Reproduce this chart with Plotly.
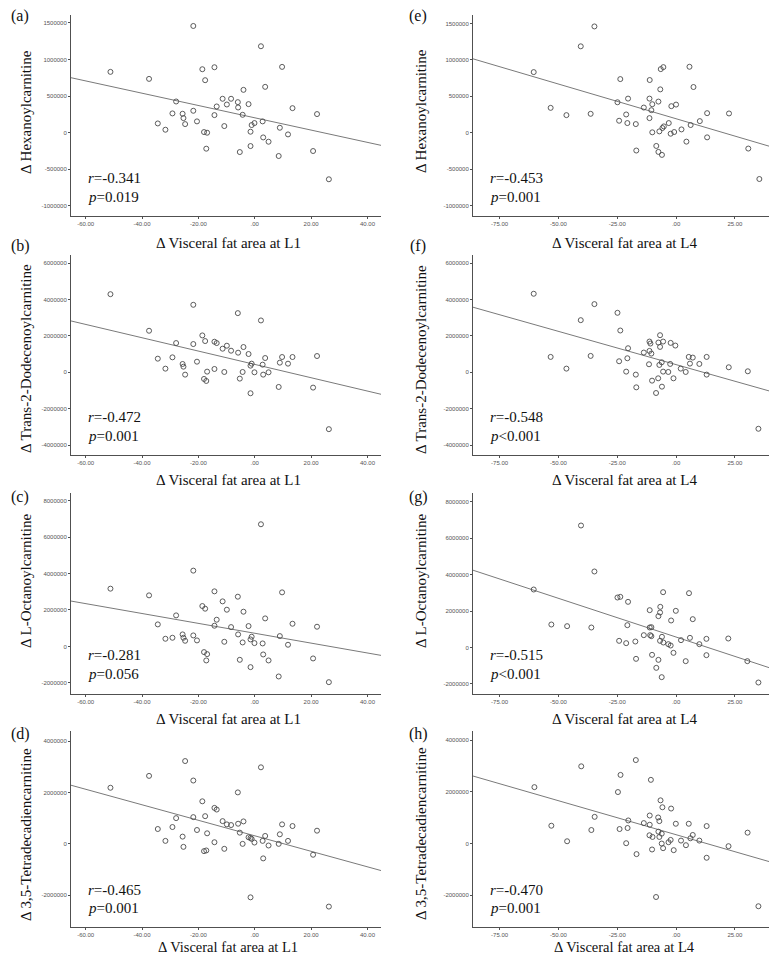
import numpy as np
import plotly.graph_objects as go

# ---------------- data ----------------
vfa_L1 = [-51.2, -37.5, -34.4, -31.7, -29.2, -27.9, -25.6, -25.3, -24.7, -21.8, -21.8, -20.5, -18.6, -17.6,
          -18.0, -16.9, -17.2, -14.3, -14.3, -13.5, -11.4, -10.8, -9.9, -8.4, -6.0, -5.9, -5.3, -4.0, -4.3,
          -2.2, -1.5, -1.5, -1.1, -0.1, 2.2, 2.8, 3.0, 3.7, 4.9, 8.5, 8.9, 9.7, 11.8, 13.4, 20.7, 22.1, 26.3]

hexanoyl_L1 = [831800, 736000, 127000, 41000, 264000, 427000, 259000, 200000, 118000, 1459000, 300000, 155000,
               868000, 718000, 9000, 0, -218000, 895000, 241000, 359000, 464000, 91000, 386000, 464000, 418000,
               345000, -264000, 586000, 245000, 391000, 14000, -182000, 105000, 132000, 1182000, 155000, -64000,
               627000, -123000, -318000, 68000, 900000, -23000, 336000, -250000, 255000, -636000]

dodecenoyl_L1 = [4292000, 2283000, 749000, 201000, 822000, 1607000, 457000, 310000, -128000, 3708000, 1552000,
                 584000, 2027000, 1717000, -365000, 37000, -475000, 1680000, 183000, 1607000, 1297000, 18000,
                 1461000, 1187000, 3251000, 1078000, -347000, 1388000, 18000, 1005000, 365000, -1151000, 475000,
                 0, 2849000, 420000, -128000, 785000, 0, -804000, 530000, 840000, 475000, 840000, -840000,
                 895000, -3123000]

octanoyl_L1 = [3169000, 2802000, 1209000, 421000, 476000, 1703000, 659000, 476000, 311000, 4158000, 604000,
               330000, 2216000, 2070000, -311000, -421000, -769000, 3022000, 1136000, 1465000, 2473000, 256000,
               2015000, 1062000, 2729000, 659000, -733000, 1905000, 220000, 1117000, 385000, -1136000, 531000,
               183000, 6703000, 165000, -440000, 1538000, -769000, -1648000, 568000, 2967000, 92000, 1245000,
               -659000, 1081000, -1960000]

tetradeca_L1 = [2187000, 2650000, 579000, 116000, 656000, 1003000, 283000, -116000, 3228000, 2469000, 1042000,
                540000, 1659000, 1080000, -283000, 412000, -257000, 1402000, 64000, 1338000, 887000, -193000,
                759000, 733000, 2006000, 785000, 437000, 875000, 0, 257000, 232000, -2084000, 193000, 51000,
                2984000, 116000, -566000, 309000, -64000, 0, 373000, 759000, 116000, 695000, -424000, 514000,
                -2444000]

vfa_L4_e = [-60.5, -53.3, -46.6, -40.5, -36.3, -34.7, -24.9, -23.7, -24.2, -21.2, -20.7, -20.4, -17.1, -16.9,
            -13.7, -11.3, -11.2, -11.3, -10.5, -10.1, -10.1, -8.4, -7.5, -7.5, -7.1, -6.7, -6.5, -6.0, -5.8,
            -5.4, -5.2, -3.1, -2.3, -2.0, -0.8, 0.0, 2.3, 4.4, 5.7, 6.2, 7.4, 10.1, 13.2, 13.2, 22.5, 30.7, 35.4]
hexanoyl_L4 = [832000, 341000, 241000, 1186000, 259000, 1459000, 418000, 736000, 164000, 250000, 132000, 468000,
               118000, -245000, 345000, 468000, 723000, 200000, 309000, 391000, 5000, -182000, 427000, -264000,
               18000, 595000, 873000, -305000, 64000, 900000, 86000, 132000, -14000, 364000, 9000, 386000, 45000,
               -123000, 905000, 105000, 627000, 159000, 268000, -64000, 264000, -218000, -636000]

vfa_L4_f = [-60.5, -53.3, -46.6, -40.5, -36.3, -34.7, -24.9, -23.7, -24.2, -20.4, -20.7, -21.2, -17.1, -16.9,
            -13.7, -11.3, -10.9, -11.3, -10.5, -11.5, -10.2, -7.6, -8.5, -6.8, -7.5, -6.8, -7.1, -6.1, -5.5,
            -6.0, -5.5, -3.3, -2.3, -2.5, -1.1, -0.3, 2.0, 4.1, 5.4, 5.9, 7.1, 9.9, 13.0, 13.0, 22.4, 30.5, 35.0]
dodecenoyl_L4 = [4312000, 844000, 202000, 2862000, 899000, 3743000, 3266000, 2294000, 606000, 1321000, 771000,
                 37000, -128000, -826000, 1083000, 1688000, 1578000, 1174000, 1028000, 440000, -459000, -330000,
                 -1138000, 2037000, 1633000, 1394000, 404000, 550000, 1688000, -789000, 37000, 18000, 1615000,
                 459000, -330000, 1468000, 202000, 18000, 844000, 477000, 807000, 459000, 844000, -128000,
                 275000, 55000, -3101000]

vfa_L4_g = [-60.5, -53.0, -46.3, -40.4, -36.0, -34.7, -24.9, -23.7, -24.2, -20.4, -20.7, -21.2, -17.3, -17.0,
            -13.7, -11.2, -11.2, -10.5, -11.0, -10.5, -10.2, -7.5, -8.4, -6.7, -6.8, -7.5, -6.8, -6.0, -5.5,
            -6.1, -5.4, -3.3, -2.1, -2.3, -1.1, -0.1, 2.1, 4.1, 5.5, 5.9, 7.1, 9.9, 12.9, 12.9, 22.2, 30.3, 35.0]
octanoyl_L4 = [3187000, 1264000, 1172000, 6703000, 1099000, 4176000, 2747000, 2784000, 366000, 2509000, 1227000,
               238000, 330000, -623000, 678000, 2051000, 1099000, 1117000, 678000, 623000, -403000, -678000,
               -1117000, 2234000, 1923000, 1722000, 366000, 586000, 3040000, -1630000, 275000, 183000, 1484000,
               110000, -293000, 2015000, 403000, -751000, 2985000, 531000, 1557000, 183000, 476000, -421000,
               494000, -751000, -1923000]

vfa_L4_h = [-60.2, -53.0, -46.3, -40.3, -36.0, -34.6, -24.7, -23.6, -24.0, -20.6, -20.3, -21.2, -17.1, -16.8,
            -13.7, -11.2, -10.7, -11.2, -11.3, -10.0, -10.2, -7.6, -7.1, -6.6, -7.5, -7.1, -5.8, -6.1, -6.1,
            -5.5, -8.5, -3.2, -2.1, -2.3, -1.0, -0.1, 2.1, 4.2, 5.4, 6.1, 7.1, 9.9, 13.0, 13.0, 22.3, 30.4, 35.0]
tetradeca_L4 = [2185000, 690000, 89000, 2991000, 524000, 1035000, 1994000, 2658000, 562000, 601000, 895000,
                13000, 3233000, -409000, 792000, 1086000, 2467000, 728000, 320000, 256000, -230000, 1010000,
                869000, 1674000, 460000, 256000, 1406000, 383000, 0, -179000, -2070000, 51000, 1355000, 141000,
                -256000, 767000, 115000, -64000, 767000, 204000, 332000, 115000, 677000, -550000, -102000,
                422000, -2428000]

panel_letters = ["(a)", "(b)", "(c)", "(d)", "(e)", "(f)", "(g)", "(h)"]
metabolite_names = ["Hexanoylcarnitine", "Trans-2-Dodecenoylcarnitine", "L-Octanoylcarnitine",
                    "3,5-Tetradecadiencarnitine"]
r_values = ["-0.341", "-0.472", "-0.281", "-0.465", "-0.453", "-0.548", "-0.515", "-0.470"]
p_values = ["=0.019", "=0.001", "=0.056", "=0.001", "=0.001", "<0.001", "<0.001", "=0.001"]

xt_L1 = [-60, -40, -20, 0, 20, 40]
xt_L1_text = ["-60.00", "-40.00", "-20.00", ".00", "20.00", "40.00"]
xt_L4 = [-75, -50, -25, 0, 25]
xt_L4_text = ["-75.00", "-50.00", "-25.00", ".00", "25.00"]
yt_rows = [[1500000, 1000000, 500000, 0, -500000, -1000000],
           [6000000, 4000000, 2000000, 0, -2000000, -4000000],
           [8000000, 6000000, 4000000, 2000000, 0, -2000000],
           [4000000, 2000000, 0, -2000000]]

# ---------------- layout geometry ----------------
W, H = 777, 955
col_px = [(63, 373), (465, 777)]
row_px = [(7, 208), (247, 446.5), (484.5, 685.5), (723, 919)]
xr = [[-65.2, 44.8], [-86.3, 46.3]]
yr = {(0, 0): [-1138000, 1609000], (0, 1): [-1144000, 1616000],
      (1, 0): [-4515000, 6444000], (1, 1): [-4514000, 6440000],
      (2, 0): [-2582000, 8445000], (2, 1): [-2527000, 8516000],
      (3, 0): [-3240000, 4399000], (3, 1): [-3232000, 4359000]}
ytitle_cy = [[104, 351, 573, 827], [103, 352, 573, 826]]
xtitle_cy = [235, 472, 711, 939]
xtitle_size = [15, 15, 15, 14.5]
xtitle_cx = [220, 616]
ytitle_cx = [18, 413]
letter_cx = [12, 410]
letter_cy = [8, 238, 489, 726]

serif = "Liberation Serif"
axcol = "#505050"

data = {
    (0, 0): (vfa_L1, hexanoyl_L1), (1, 0): (vfa_L1, dodecenoyl_L1),
    (2, 0): (vfa_L1, octanoyl_L1), (3, 0): (vfa_L1, tetradeca_L1),
    (0, 1): (vfa_L4_e, hexanoyl_L4), (1, 1): (vfa_L4_f, dodecenoyl_L4),
    (2, 1): (vfa_L4_g, octanoyl_L4), (3, 1): (vfa_L4_h, tetradeca_L4),
}

fig = go.Figure()
annotations = []
layout_axes = {}

idx = 0
for c in range(2):
    for r in range(4):
        idx += 1
        xname = "x" if idx == 1 else f"x{idx}"
        yname = "y" if idx == 1 else f"y{idx}"
        xkey = "xaxis" if idx == 1 else f"xaxis{idx}"
        ykey = "yaxis" if idx == 1 else f"yaxis{idx}"
        x = np.array(data[(r, c)][0], dtype=float)
        y = np.array(data[(r, c)][1], dtype=float)

        # regression line (least squares from the data)
        slope, intercept = np.polyfit(x, y, 1)
        lx = np.array(xr[c])
        fig.add_trace(go.Scatter(x=lx, y=slope * lx + intercept, mode="lines",
                                 line=dict(color="#7a7a7a", width=1), xaxis=xname, yaxis=yname,
                                 showlegend=False, hoverinfo="skip"))
        fig.add_trace(go.Scatter(x=x, y=y, mode="markers",
                                 marker=dict(symbol="circle-open", size=5, color="#4a4a4a",
                                             line=dict(width=0.9, color="#4a4a4a")),
                                 xaxis=xname, yaxis=yname, showlegend=False))

        x0, x1 = col_px[c]
        t, b = row_px[r]
        common = dict(showline=True, linecolor=axcol, linewidth=1, showgrid=False, zeroline=False,
                      ticks="outside", ticklen=2, tickcolor=axcol, tickwidth=1,
                      tickfont=dict(family="Liberation Sans", size=6, color="#555555"))
        layout_axes[xkey] = dict(domain=[x0 / W, x1 / W], range=xr[c], anchor=yname,
                                 tickvals=xt_L1 if c == 0 else xt_L4,
                                 ticktext=xt_L1_text if c == 0 else xt_L4_text, **common)
        layout_axes[ykey] = dict(domain=[1 - b / H, 1 - t / H], range=yr[(r, c)], anchor=xname,
                                 tickvals=yt_rows[r], ticktext=[str(v) for v in yt_rows[r]], **common)

        # r and p annotations
        annotations.append(dict(xref=f"{xname} domain", yref=f"{yname} domain", x=0.048, y=0.19,
                                xanchor="left", yanchor="middle", showarrow=False,
                                text=f"<i>r</i>={r_values[idx-1]}",
                                font=dict(family=serif, size=15, color="#111111")))
        annotations.append(dict(xref=f"{xname} domain", yref=f"{yname} domain", x=0.048, y=0.095,
                                xanchor="left", yanchor="middle", showarrow=False,
                                text=f"<i>p</i>{p_values[idx-1]}",
                                font=dict(family=serif, size=15, color="#111111")))
        # x title
        annotations.append(dict(xref="paper", yref="paper", x=xtitle_cx[c] / W, y=1 - xtitle_cy[r] / H,
                                xanchor="center", yanchor="middle", showarrow=False, borderpad=0,
                                text=f"Δ Visceral fat area at {'L1' if c == 0 else 'L4'}",
                                font=dict(family=serif, size=xtitle_size[r], color="#111111")))
        # y title
        annotations.append(dict(xref="paper", yref="paper", x=ytitle_cx[c] / W, y=1 - ytitle_cy[c][r] / H,
                                xanchor="center", yanchor="middle", showarrow=False, textangle=-90,
                                text=f"Δ {metabolite_names[r]}",
                                font=dict(family=serif, size=15, color="#111111")))
        # panel letter
        annotations.append(dict(xref="paper", yref="paper", x=letter_cx[c] / W, y=1 - letter_cy[r] / H,
                                xanchor="center", yanchor="middle", showarrow=False,
                                text=panel_letters[idx - 1],
                                font=dict(family=serif, size=16, color="#111111")))

fig.update_layout(width=W, height=H, margin=dict(l=0, r=0, t=0, b=0),
                  paper_bgcolor="white", plot_bgcolor="white",
                  annotations=annotations, **layout_axes)

fig.write_html("out.html")
